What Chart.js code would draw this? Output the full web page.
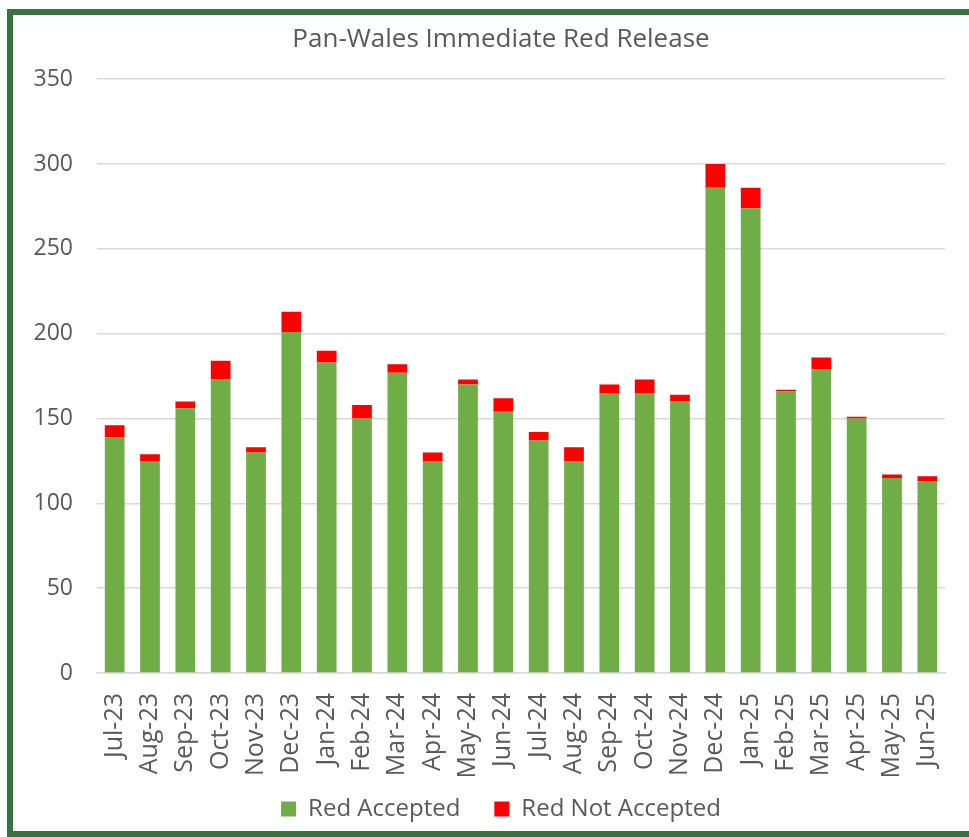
<!DOCTYPE html>
<html>
<head>
<meta charset="utf-8">
<script src="https://cdn.jsdelivr.net/npm/chart.js@4.4.1/dist/chart.umd.min.js"></script>
<style>
  html, body { margin: 0; padding: 0; background: #fff; overflow: hidden; }
  #frame {
    position: absolute; left: 7px; top: 9px;
    width: 988px; height: 828px;
    border: 6px solid #3B7042; box-sizing: border-box;
    background: #fff;
  }
  #frame canvas { display: block; }
</style>
</head>
<body>
<div id="frame"><canvas id="chart" width="976" height="816"></canvas></div>
<script>
// Monthly categories
const months = [
  'Jul-23', 'Aug-23', 'Sep-23', 'Oct-23', 'Nov-23', 'Dec-23',
  'Jan-24', 'Feb-24', 'Mar-24', 'Apr-24', 'May-24', 'Jun-24',
  'Jul-24', 'Aug-24', 'Sep-24', 'Oct-24', 'Nov-24', 'Dec-24',
  'Jan-25', 'Feb-25', 'Mar-25', 'Apr-25', 'May-25', 'Jun-25',
];

// Stacked series
const redAccepted = [
  139, 125, 156, 173, 130, 201,
  183, 150, 177, 125, 170, 154,
  137, 125, 165, 165, 160, 286,
  274, 166, 179, 150, 115, 113,
];
const redNotAccepted = [
  7, 4, 4, 11, 3, 12,
  7, 8, 5, 5, 3, 8,
  5, 8, 5, 8, 4, 14,
  12, 1, 7, 1, 2, 3,
];

const yTicks = { min: 0, max: 350, step: 50 };

const TEXT = '#595959';
const FONT = 'Open Sans';

// axis labels are clipped to the scale box, let them spill over the padding
const unclipLabels = {
  id: 'unclipLabels',
  afterLayout(chart) {
    chart.scales.y.left = 0;
    chart.scales.x.bottom = chart.height;
  },
};

new Chart(document.getElementById('chart'), {
  type: 'bar',
  data: {
    labels: months,
    datasets: [
      {
        label: 'Red Accepted',
        data: redAccepted,
        backgroundColor: '#70AD47',
        borderWidth: 0,
        barPercentage: 0.98,
        categoryPercentage: 0.57,
      },
      {
        label: 'Red Not Accepted',
        data: redNotAccepted,
        backgroundColor: '#FF0000',
        borderWidth: 0,
        barPercentage: 0.98,
        categoryPercentage: 0.57,
      },
    ],
  },
  plugins: [unclipLabels],
  options: {
    responsive: false,
    animation: false,
    layout: { padding: { left: 44, right: 44, top: 9, bottom: 0 } },
    plugins: {
      title: {
        display: true,
        text: 'Pan-Wales Immediate Red Release',
        color: TEXT,
        font: { family: FONT, size: 26, weight: 'normal' },
        padding: { top: 0, bottom: 24 },
      },
      legend: {
        position: 'bottom',
        labels: {
          color: TEXT,
          font: { family: FONT, size: 24 },
          boxWidth: 15, boxHeight: 15,
          padding: 34,
        },
      },
      tooltip: { enabled: false },
    },
    scales: {
      x: {
        stacked: true,
        grid: { display: false },
        border: { color: '#D9D9D9', width: 1.5 },
        ticks: {
          color: TEXT,
          font: { family: FONT, size: 25 },
          maxRotation: 90, minRotation: 90,
          autoSkip: false, padding: 12,
        },
        afterFit: (scale) => { scale.height = 90; },
      },
      y: {
        stacked: true,
        min: yTicks.min, max: yTicks.max,
        grid: { color: '#D9D9D9', lineWidth: 1.5, drawTicks: false },
        border: { display: false },
        ticks: {
          stepSize: yTicks.step,
          color: TEXT,
          font: { family: FONT, size: 23 },
          padding: 24,
        },
        afterFit: (scale) => { scale.width = 40; },
      },
    },
  },
});
</script>
</body>
</html>
